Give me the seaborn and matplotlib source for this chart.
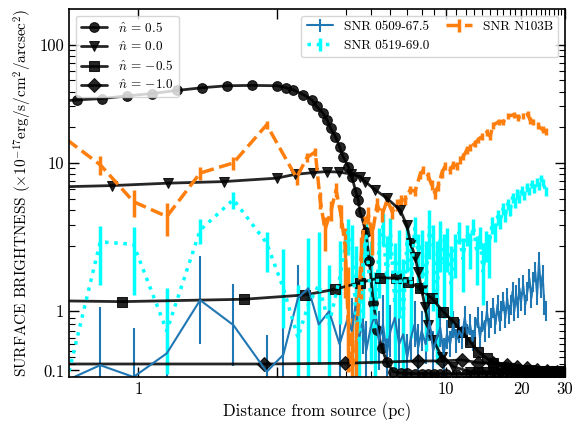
import numpy as np
import pandas as pd
import matplotlib
matplotlib.use("Agg")
import matplotlib.pyplot as plt
import seaborn as sns
from matplotlib.ticker import FixedLocator, FixedFormatter, NullFormatter

# ---------------- model curves (n-hat) ----------------
n05_x = [0.0, 0.12, 0.48, 0.84, 1.2, 1.56, 1.92, 2.28, 2.64, 3.0, 3.13, 3.23, 3.38, 3.5, 3.57,
         3.66, 3.72, 3.77, 3.84, 3.9, 3.95, 4.07, 4.2, 4.36, 4.46, 4.53, 4.79, 4.94, 5.13, 5.32,
         5.54, 5.8, 6.16, 6.6, 7.0, 7.5, 8.0, 8.5, 9.0, 9.5, 10, 11, 12, 13, 14, 15, 16, 17, 18,
         19, 20, 21, 22, 23, 24, 25, 26, 27, 28, 29, 30]
n05_y = [33.7, 34.1, 35.0, 36.9, 38.6, 41.0, 43.2, 44.9, 45.2, 44.9, 43.2, 41.5, 37.7, 34.1, 30.0,
         26.4, 23.1, 19.7, 16.7, 13.7, 11.3, 9.31, 7.67, 5.72, 4.87, 3.88, 2.62, 1.76, 1.12, 0.72,
         0.44, 0.23, 0.08, 0.06, 0.055, 0.053, 0.052, 0.051, 0.05, 0.05, 0.05, 0.05, 0.05, 0.05,
         0.05, 0.05, 0.05, 0.05, 0.05, 0.05, 0.05, 0.05, 0.05, 0.05, 0.05, 0.05, 0.05, 0.05, 0.05,
         0.05, 0.05]

n00_x = [0.0, 0.624, 1.432, 2.235, 2.995, 3.26, 3.522, 3.715, 3.897, 4.16, 4.53, 4.75, 5.21, 5.8,
         6.56, 6.97, 7.24, 7.53, 7.76, 8.0, 8.25, 8.51, 8.91, 9.63, 10.72, 12.5, 13.5, 14.5, 15.5,
         16.5, 17.5, 18.5, 19.5, 20.5, 21.5, 22.5, 23.5, 24.5, 25.5, 26.5, 27.5, 28.5, 29.5]
n00_y = [6.3, 6.43, 6.74, 6.95, 7.43, 8.0, 8.28, 8.45, 8.35, 8.07, 7.67, 6.95, 5.92, 5.03,
         4.0, 2.99, 2.09, 1.83, 1.60, 1.33, 1.07, 0.79, 0.56, 0.31, 0.157, 0.081, 0.075, 0.072,
         0.07, 0.068, 0.066, 0.065, 0.064, 0.063, 0.062, 0.061, 0.06, 0.06, 0.06, 0.06, 0.06,
         0.06, 0.06]

nm05_x = [0.0, 0.768, 2.523, 3.403, 3.835, 4.53, 5.45, 6.32, 7.07, 7.88, 8.78, 9.77, 10.72, 11.58,
          12.5, 13.5, 14.58, 15.5, 17.0, 18.0, 19.0, 20.0, 21.0, 22.0, 23.0, 24.0, 25.0, 26.0,
          27.0, 28.0, 29.0, 30.0]
nm05_y = [1.157, 1.147, 1.183, 1.249, 1.335, 1.436, 1.512, 1.503, 1.451, 1.35, 1.198, 0.994, 0.842,
          0.69, 0.538, 0.385, 0.285, 0.209, 0.157, 0.13, 0.12, 0.11, 0.105, 0.1, 0.097, 0.094,
          0.092, 0.09, 0.088, 0.086, 0.085, 0.084]

nm10_x = [0.0, 2.81, 3.98, 7.76, 9.63, 11.58, 13.5, 15.5, 17.53, 19.2, 21.1, 23.1, 25.4, 27.8, 30.0]
nm10_y = [0.198, 0.198, 0.209, 0.244, 0.244, 0.259, 0.218, 0.209, 0.183, 0.157, 0.132, 0.107,
          0.096, 0.081, 0.075]

model_labels = [r"$\hat{n}$ = 0.5", r"$\hat{n}$ = 0.0", r"$\hat{n}$ = $-$0.5",
                r"$\hat{n}$ = $-$1.0"]

# ---------------- observed profiles ----------------
snr0509_x = [-0.03, 0.45, 0.93, 1.41, 1.89, 2.37, 2.85, 3.09,
             3.3, 3.45, 3.6, 3.75, 3.9, 4.05, 4.2, 4.35, 4.5, 4.65,
             4.8, 5.0, 5.2, 5.4, 5.6, 5.8, 6.0, 6.25, 6.5, 6.75,
             7.0, 7.25, 7.5, 7.75, 8.0, 8.3, 8.6, 8.9, 9.2, 9.5,
             9.8, 10.1, 10.4, 10.7, 11.0, 11.3, 11.6, 11.9, 12.2, 12.5,
             12.8, 13.1, 13.4, 13.7, 14.0, 14.3, 14.6, 14.9, 15.2, 15.5,
             15.8, 16.1, 16.4, 16.7, 17.0, 17.3, 17.6, 17.9, 18.2, 18.5,
             18.8, 19.1, 19.4, 19.7, 20.0, 20.4, 20.8, 21.2, 21.6, 22.0,
             22.4, 22.8, 23.2, 23.6, 24.0, 24.4, 24.8, 25.2]
snr0509_y = [-0.05, 0.18, 0.0, 0.36, 1.17, 0.79, 0.08, 0.34,
             1.2, 1.35, 0.8, 1.0, 0.5, 0.9, 0.7, 1.1, 0.6, 0.85,
             0.4, 0.75, 0.95, 0.55, 0.8, 0.35, 0.7, 0.9, 0.5, 0.65,
             0.3, 0.6, 0.8, 0.45, 0.7, 0.5, 0.85, 0.4, 0.6, 0.75,
             0.35, 0.65, 0.5, 0.8, 0.55, 0.7, 0.6, 0.9, 0.65, 0.8,
             0.55, 0.75, 0.9, 0.6, 0.85, 0.7, 1.0, 0.75, 0.9, 1.05,
             0.8, 1.1, 0.85, 1.0, 1.15, 0.9, 1.2, 0.95, 1.1, 1.3,
             1.0, 1.25, 1.05, 1.35, 1.15, 1.4, 1.1, 1.3, 1.5, 1.2,
             1.45, 1.6, 1.25, 1.75, 1.35, 1.55, 1.1, 1.0]
snr0509_e = [0.5, 0.89, 0.74, 0.96, 0.67, 0.62, 0.56, 0.41,
             0.5, 0.5, 0.5, 0.5, 0.5, 0.5, 0.5, 0.5, 0.5, 0.5,
             0.45, 0.45, 0.45, 0.45, 0.45, 0.45, 0.4, 0.4, 0.4, 0.4,
             0.35, 0.35, 0.35, 0.35, 0.3, 0.3, 0.3, 0.3, 0.3, 0.3,
             0.25, 0.22, 0.2, 0.2, 0.18, 0.18, 0.18, 0.18, 0.16, 0.16,
             0.16, 0.16, 0.16, 0.16, 0.16, 0.16, 0.15, 0.15, 0.15, 0.15,
             0.15, 0.15, 0.15, 0.15, 0.15, 0.15, 0.15, 0.15, 0.15, 0.15,
             0.15, 0.15, 0.15, 0.15, 0.15, 0.15, 0.15, 0.15, 0.15, 0.15,
             0.15, 0.15, 0.15, 0.15, 0.15, 0.15, 0.15, 0.15]

snr0519_x = [-0.03, 0.45, 0.93, 1.41, 1.89, 2.37, 2.85, 3.09,
             3.3, 3.45, 3.6, 3.75, 3.9, 4.05, 4.2, 4.35, 4.5, 4.65,
             4.8, 5.0, 5.2, 5.4, 5.6, 5.8, 6.0, 6.25, 6.5, 6.75,
             7.0, 7.25, 7.5, 7.75, 8.0, 8.3, 8.6, 8.9, 9.2, 9.5,
             9.8, 10.1, 10.5, 10.9, 11.3, 11.7, 12.1, 12.5, 12.9, 13.3,
             13.7, 14.1, 14.5, 14.9, 15.3, 15.7, 16.1, 16.5, 16.9, 17.3,
             17.7, 18.1, 18.5, 18.9, 19.3, 19.7, 20.1, 20.6, 21.1, 21.6,
             22.1, 22.6, 23.1, 23.6, 24.1, 24.6, 25.1]
snr0519_y = [-0.05, 2.15, 2.05, 0.7, 2.7, 4.9, 2.1, 1.35,
             0.6, 1.1, 1.4, 0.8, 1.5, 2.6, 2.2, 1.0, 0.5, 1.7,
             2.4, 1.2, 0.7, 2.0, 2.9, 1.5, 2.6, 1.1, 1.8, 0.9,
             2.3, 1.4, 2.8, 1.9, 2.1, 1.3, 2.9, 2.0, 1.2, 2.4,
             1.7, 2.2, 1.4, 2.0, 2.6, 1.8, 2.5, 2.1, 2.9, 1.9,
             2.4, 1.6, 2.2, 2.0, 3.0, 2.6, 3.5, 3.2, 4.1, 3.6,
             4.5, 4.0, 5.1, 4.6, 5.5, 5.0, 5.9, 5.3, 6.2, 5.8,
             6.6, 6.0, 7.0, 6.4, 7.4, 6.8, 5.7]
snr0519_e = [0.3, 0.75, 0.8, 0.65, 0.65, 0.8, 0.5, 0.6,
             0.8, 1.2, 1.2, 0.9, 0.7, 0.75, 0.8, 1.0, 0.9, 0.8,
             0.7, 1.0, 0.9, 0.8, 0.9, 0.9, 0.8, 1.0, 0.9, 0.9,
             0.7, 0.8, 0.7, 0.6, 0.6, 0.9, 1.1, 1.0, 1.0, 0.8,
             0.8, 0.6, 0.6, 0.5, 0.55, 0.5, 0.5, 0.45, 0.45, 0.5,
             0.45, 0.5, 0.45, 0.5, 0.5, 0.45, 0.5, 0.45, 0.5, 0.45,
             0.5, 0.45, 0.5, 0.45, 0.5, 0.45, 0.5, 0.45, 0.5, 0.45,
             0.5, 0.45, 0.5, 0.45, 0.5, 0.45, 0.5]

n103b_x = [-0.03, 0.45, 0.93, 1.41, 1.89, 2.37, 2.85, 3.28, 3.43, 3.55, 3.62, 3.69, 3.78, 3.85,
           3.92, 3.98, 4.06, 4.2, 4.36, 4.57, 4.69, 4.9, 5.07, 5.3, 5.56, 5.82, 6.1, 6.39, 6.63,
           6.87, 7.19, 7.53, 7.88, 8.12, 8.5, 8.77, 9.04, 9.33, 9.63, 9.94, 10.39, 10.71, 11.05,
           11.4, 11.75, 12.13, 12.5, 13.08, 13.49, 13.92, 14.58, 15.03, 15.49, 16.25, 17.0, 17.8,
           18.7, 19.5, 20.4, 21.3, 21.75, 22.4, 23.3, 24.4, 25.2]
n103b_y = [15.7, 9.64, 4.7, 3.52, 8.2, 10.0, 21.0, 7.48, 11.1, 12.4, 4.87, 2.72, 4.0, 5.9, 3.64,
           2.0, 0.87, 0.1, 0.41, 1.78, 2.99, 3.64, 2.46, 4.42, 3.64, 4.87, 3.85, 4.42, 4.87, 4.87,
           5.92, 5.75, 7.92, 8.73, 7.78, 6.52, 5.55, 6.4, 8.2, 9.45, 8.73, 9.64, 9.45, 10.6, 11.3,
           12.9, 13.6, 14.6, 15.7, 16.8, 18.1, 16.8, 20.8, 22.3, 22.3, 24.9, 25.5, 24.3, 24.9,
           25.8, 23.0, 22.3, 20.8, 19.05, 18.4]
n103b_e = [2.0, 1.7, 1.2, 1.1, 1.0, 1.3, 1.5, 1.0, 1.0, 1.0, 0.8, 0.8, 0.8, 0.8, 0.8, 0.8, 0.8,
           0.8, 0.8, 0.6, 0.6, 0.6, 0.6, 0.6, 0.5, 0.5, 0.5, 0.5, 0.5, 0.5, 0.5, 0.5, 0.6, 0.6,
           0.6, 0.6, 0.6, 0.6, 0.7, 0.7, 0.7, 0.7, 0.7, 0.8, 0.8, 0.9, 0.9, 1.0, 1.0, 1.1, 1.2,
           1.1, 1.3, 1.4, 1.4, 1.5, 1.5, 1.5, 1.5, 1.6, 1.5, 1.4, 1.3, 1.3, 1.2]

data_labels = ["SNR 0509-67.5", "SNR 0519-69.0", "SNR N103B"]

x_major = [1, 3, 10, 20, 30]
x_major_labels = ["1", "", "10", "20", "30"]
x_minor = [4, 5, 6, 7, 8, 9, 11, 12, 13, 14, 15, 16, 17, 18, 19, 21, 22, 23, 24, 25, 26, 27, 28, 29]
y_major = [0.1, 1, 10, 100]
y_major_labels = ["0.1", "1", "10", "100"]
y_minor = [0.2, 0.3, 0.4, 0.5, 0.6, 0.7, 0.8, 0.9, 2, 3, 4, 5, 6, 7, 8, 9,
           20, 30, 40, 50, 60, 70, 80, 90]

# ---------------- style ----------------
sns.set_style("ticks")
plt.rcParams.update({
    "font.family": ["cmr10", "DejaVu Serif"],
    "mathtext.fontset": "cm",
    "axes.unicode_minus": False,
    "axes.formatter.use_mathtext": True,
    "axes.edgecolor": "black",
    "axes.labelcolor": "black",
    "text.color": "black",
    "xtick.color": "black",
    "ytick.color": "black",
    "xtick.direction": "in",
    "ytick.direction": "in",
    "xtick.top": True,
    "ytick.right": True,
    "axes.linewidth": 1.2,
})

fig = plt.figure(figsize=(5.81, 4.25), dpi=100)
ax = fig.add_axes([69 / 581, 48 / 425, 496 / 581, 368 / 425])

# observed data with error bars
data_handles = []
for xs, ys, es, col, ls, lw in [
    (snr0509_x, snr0509_y, snr0509_e, "#1f77b4", "-", 1.5),
    (snr0519_x, snr0519_y, snr0519_e, "cyan", ":", 2.5),
    (n103b_x, n103b_y, n103b_e, "#ff7f0e", "--", 2.5),
]:
    h = ax.errorbar(xs, ys, yerr=es, color=col, ls=ls, lw=lw, capsize=0)
    data_handles.append(h)

# model curves
model_handles = []
for xs, ys, mk in [(n05_x, n05_y, "o"), (n00_x, n00_y, "v"),
                   (nm05_x, nm05_y, "s"), (nm10_x, nm10_y, "D")]:
    df = pd.DataFrame({"x": xs, "y": ys})
    sns.lineplot(data=df, x="x", y="y", ax=ax, color="k", lw=2, alpha=0.85,
                 marker=mk, markersize=7, markevery=list(range(1, len(xs))),
                 markeredgecolor="k", estimator=None, sort=False)
    model_handles.append(ax.lines[-1])

ax.set_xscale("symlog", linthresh=4, linscale=1)
ax.set_yscale("symlog", linthresh=2, linscale=1)
ax.set_xlim(0, 30)
ax.set_ylim(0, 200)

ax.xaxis.set_major_locator(FixedLocator(x_major))
ax.xaxis.set_major_formatter(FixedFormatter(x_major_labels))
ax.xaxis.set_minor_locator(FixedLocator(x_minor))
ax.xaxis.set_minor_formatter(NullFormatter())
ax.yaxis.set_major_locator(FixedLocator(y_major))
ax.yaxis.set_major_formatter(FixedFormatter(y_major_labels))
ax.yaxis.set_minor_locator(FixedLocator(y_minor))
ax.yaxis.set_minor_formatter(NullFormatter())
ax.tick_params(which="major", length=7, width=1, labelsize=12, direction="in",
               top=True, right=True)
ax.tick_params(which="minor", length=4, width=0.8, direction="in", top=True, right=True)

ax.set_xlabel("Distance from source (pc)", fontsize=12)
ax.set_ylabel(r"SURFACE BRIGHTNESS $(\times 10^{-17}\mathrm{erg/s/cm^2/arcsec^2})$", fontsize=11)

leg1 = ax.legend(model_handles, model_labels, loc="upper left", fontsize=9.5,
                 labelspacing=0.4)
ax.add_artist(leg1)
ax.legend(data_handles, data_labels, loc="upper right", ncol=2, fontsize=9.5,
          columnspacing=1.3)

fig.savefig("out.png", dpi=100)
